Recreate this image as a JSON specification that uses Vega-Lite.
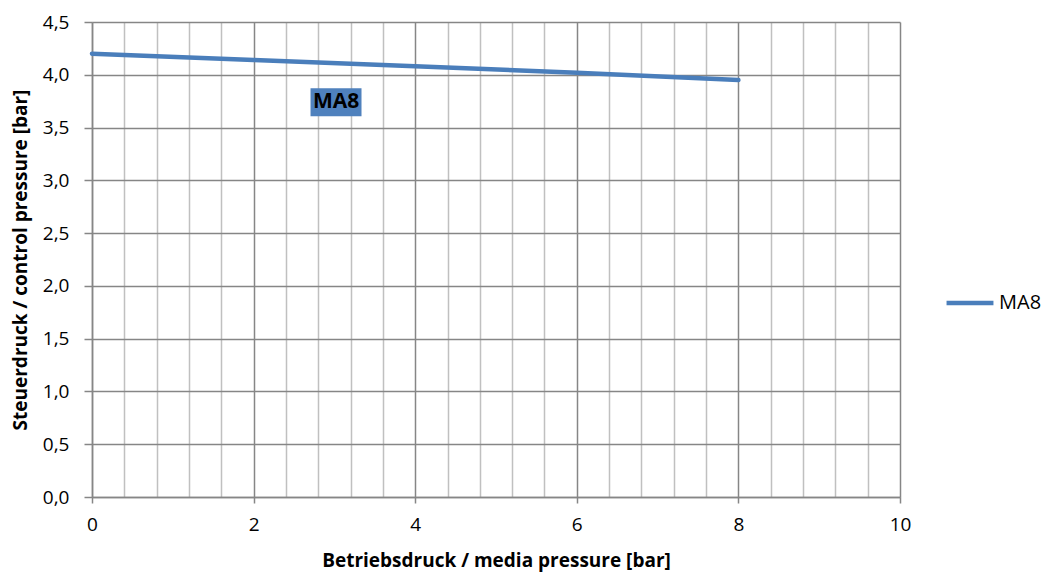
{
  "$schema": "https://vega.github.io/schema/vega-lite/v6.json",
  "width": 808,
  "height": 475,
  "autosize": "none",
  "padding": {"left": 92, "top": 22, "right": 148, "bottom": 79},
  "background": "white",
  "config": {
    "view": {"stroke": null},
    "font": "Open Sans"
  },
  "datasets": {
    "curve": [
      {"p": 0, "s": 4.2, "series": "MA8"},
      {"p": 2, "s": 4.14, "series": "MA8"},
      {"p": 4, "s": 4.08, "series": "MA8"},
      {"p": 6, "s": 4.02, "series": "MA8"},
      {"p": 8, "s": 3.95, "series": "MA8"}
    ],
    "note": [
      {"p": 3.02, "s": 3.74, "label": "MA8"}
    ]
  },
  "layer": [
    {
      "data": {"name": "curve"},
      "mark": {"type": "line", "strokeWidth": 4.5, "strokeCap": "round"},
      "encoding": {
        "x": {
          "field": "p", "type": "quantitative",
          "scale": {"domain": [0, 10], "nice": false, "zero": false},
          "axis": {
            "values": [0, 2, 4, 6, 8, 10],
            "title": "Betriebsdruck / media pressure [bar]",
            "titleFont": "Open Sans", "titleFontWeight": "bold", "titleFontSize": 19, "titleColor": "#000000", "titlePadding": 17,
            "labelFont": "Open Sans", "labelFontSize": 19, "labelColor": "#000000", "labelPadding": 12, "labelFlush": false,
            "grid": true, "gridColor": "#868686", "gridWidth": 1.5,
            "domain": true, "domainColor": "#868686", "domainWidth": 1.5,
            "ticks": true, "tickColor": "#868686", "tickSize": 6, "tickWidth": 1.5
          }
        },
        "y": {
          "field": "s", "type": "quantitative",
          "scale": {"domain": [0, 4.5], "nice": false, "zero": false},
          "axis": {
            "values": [0, 0.5, 1, 1.5, 2, 2.5, 3, 3.5, 4, 4.5],
            "labelExpr": "replace(format(datum.value, '.1f'), '.', ',')",
            "title": "Steuerdruck  / control pressure [bar]",
            "titleFont": "Open Sans", "titleFontWeight": "bold", "titleFontSize": 19, "titleColor": "#000000", "titlePadding": 12,
            "labelFont": "Open Sans", "labelFontSize": 19, "labelColor": "#000000", "labelPadding": 15,
            "grid": true, "gridColor": "#868686", "gridWidth": 1.5,
            "domain": true, "domainColor": "#868686", "domainWidth": 1.5,
            "ticks": true, "tickColor": "#868686", "tickSize": 8, "tickWidth": 1.5
          }
        },
        "color": {
          "field": "series", "type": "nominal",
          "scale": {"domain": ["MA8"], "range": ["#4a7ebb"]},
          "legend": {
            "title": null, "orient": "none", "legendX": 852, "legendY": 255,
            "symbolType": "stroke", "symbolStrokeWidth": 4.5, "symbolSize": 2200,
            "labelFont": "Open Sans", "labelFontSize": 20, "labelColor": "#000000", "labelOffset": 3
          }
        }
      }
    },
    {
      "data": {"name": "note"},
      "mark": {"type": "point", "shape": "M-1,-0.55H1V0.55H-1Z", "filled": true, "size": 2600, "color": "#4f81bd", "opacity": 1},
      "encoding": {
        "x": {
          "field": "p", "type": "quantitative",
          "axis": {
            "orient": "top",
            "values": [0.4, 0.8, 1.2, 1.6, 2.4, 2.8, 3.2, 3.6, 4.4, 4.8, 5.2, 5.6, 6.4, 6.8, 7.2, 7.6, 8.4, 8.8, 9.2, 9.6],
            "title": null, "labels": false, "ticks": false, "domain": false,
            "grid": true, "gridColor": "#c0c0c0", "gridWidth": 1.5
          }
        },
        "y": {"field": "s", "type": "quantitative"}
      }
    },
    {
      "data": {"name": "note"},
      "mark": {"type": "text", "font": "Open Sans", "fontWeight": "bold", "fontSize": 21, "color": "#000000", "align": "center", "baseline": "middle"},
      "encoding": {
        "x": {"field": "p", "type": "quantitative", "axis": null},
        "y": {"field": "s", "type": "quantitative"},
        "text": {"field": "label"}
      }
    }
  ],
  "resolve": {"axis": {"x": "independent"}}
}
